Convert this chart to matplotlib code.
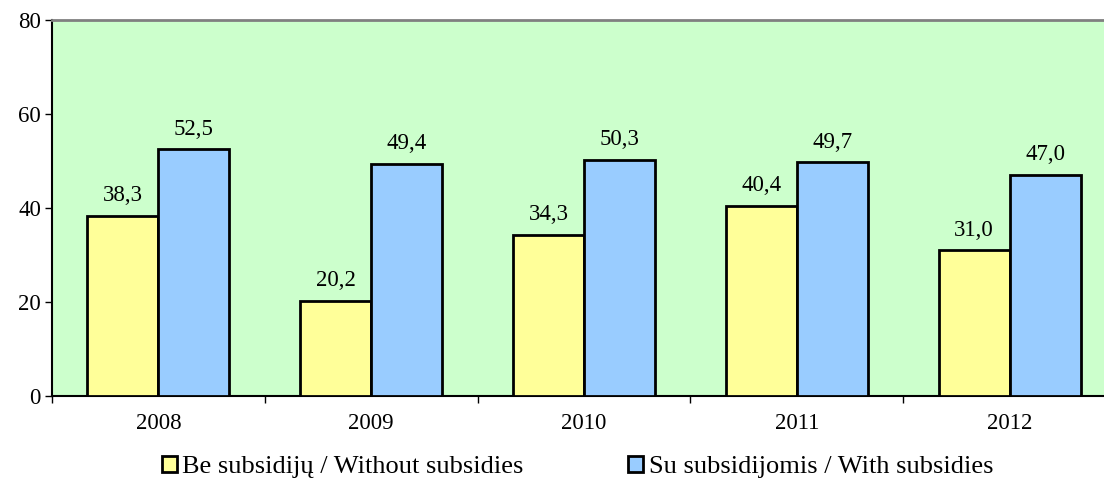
import matplotlib
matplotlib.use("Agg")
import matplotlib.pyplot as plt
import numpy as np

years = ["2008", "2009", "2010", "2011", "2012"]
without_subsidies = [38.3, 20.2, 34.3, 40.4, 31.0]
with_subsidies = [52.5, 49.4, 50.3, 49.7, 47.0]
series_labels = ["Be subsidijų / Without subsidies", "Su subsidijomis / With subsidies"]
y_ticks = [0, 20, 40, 60, 80]

plt.rcParams['font.family'] = ['Liberation Serif', 'DejaVu Serif']

W, H = 1104, 486
fig = plt.figure(figsize=(W / 100, H / 100), dpi=100)
left, right, top, bottom = 52, 1116, 20, 396
ax = fig.add_axes([left / W, 1 - bottom / H, (right - left) / W, (bottom - top) / H])
ax.set_facecolor("#CCFFCC")

x = np.arange(len(years))
bw = 1 / 3
b1 = ax.bar(x - bw / 2, without_subsidies, bw, color="#FFFF99", edgecolor="black", linewidth=2, label=series_labels[0], zorder=3)
b2 = ax.bar(x + bw / 2, with_subsidies, bw, color="#99CCFF", edgecolor="black", linewidth=2, label=series_labels[1], zorder=3)

def fmt(v):
    return f"{v:.1f}".replace(".", ",")

for bars, vals in ((b1, without_subsidies), (b2, with_subsidies)):
    for r, v in zip(bars, vals):
        ax.annotate(fmt(v), (r.get_x() + r.get_width() / 2, v), xytext=(0, 7),
                    textcoords="offset points", ha="center", va="bottom", fontsize=16.5)

ax.set_xlim(-0.5, len(years) - 0.5)
ax.set_ylim(0, 80)
ax.set_yticks(y_ticks)
ax.tick_params(axis="y", labelsize=16.5, length=5, direction="out", width=1, pad=3)
ax.set_xticks(x)
ax.set_xticklabels(years)
ax.set_xticks(np.arange(len(years) + 1) - 0.5, minor=True)
ax.tick_params(axis="x", which="major", length=0, labelsize=16.5, pad=12)
ax.tick_params(axis="x", which="minor", length=5, width=1)

ax.spines["right"].set_visible(False)
ax.spines["top"].set_color("#808080")
ax.spines["top"].set_linewidth(2)
ax.spines["left"].set_linewidth(1.5)
ax.spines["bottom"].set_linewidth(1.5)

fig.legend(handles=[b1, b2], labels=series_labels, loc="center", bbox_to_anchor=(0.523, 1 - 467 / H),
           ncol=2, frameon=False, fontsize=19, handlelength=0.57, handleheight=0.57,
           handletextpad=0.2, columnspacing=3.97)

fig.savefig("out.png", dpi=100)
